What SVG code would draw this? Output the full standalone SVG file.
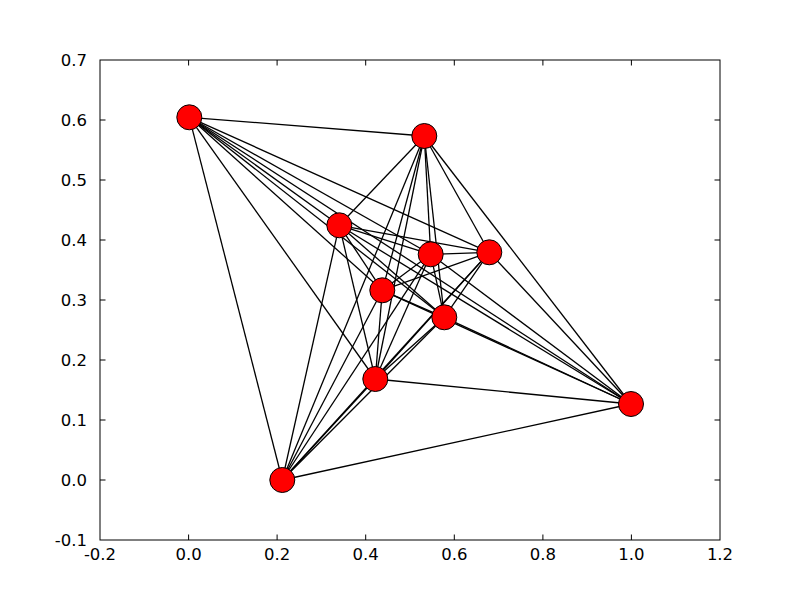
<svg xmlns="http://www.w3.org/2000/svg" width="800" height="600" viewBox="0 0 800 600">
<style>
.edge{stroke:#000;stroke-width:1.3;fill:none}
.node{fill:#ff0000;stroke:#000;stroke-width:1}
.tick{stroke:#000;stroke-width:1}
.lbl{font-family:"DejaVu Sans",sans-serif;font-size:16.5px;fill:#000}
.xl{text-anchor:middle}
.yl{text-anchor:end}
</style>
<rect width="800" height="600" fill="#fff"/>
<g id="connectors">
<line class="edge" x1="189.3" y1="117.3" x2="424.3" y2="136"/>
<line class="edge" x1="189.3" y1="117.3" x2="339.3" y2="225.3"/>
<line class="edge" x1="189.3" y1="117.3" x2="430.7" y2="254.3"/>
<line class="edge" x1="189.3" y1="117.3" x2="489.3" y2="252.3"/>
<line class="edge" x1="189.3" y1="117.3" x2="382.3" y2="290.3"/>
<line class="edge" x1="189.3" y1="117.3" x2="444.3" y2="317.3"/>
<line class="edge" x1="189.3" y1="117.3" x2="375.3" y2="379"/>
<line class="edge" x1="189.3" y1="117.3" x2="631" y2="404"/>
<line class="edge" x1="189.3" y1="117.3" x2="282.3" y2="480"/>
<line class="edge" x1="424.3" y1="136" x2="339.3" y2="225.3"/>
<line class="edge" x1="424.3" y1="136" x2="430.7" y2="254.3"/>
<line class="edge" x1="424.3" y1="136" x2="489.3" y2="252.3"/>
<line class="edge" x1="424.3" y1="136" x2="382.3" y2="290.3"/>
<line class="edge" x1="424.3" y1="136" x2="444.3" y2="317.3"/>
<line class="edge" x1="424.3" y1="136" x2="375.3" y2="379"/>
<line class="edge" x1="424.3" y1="136" x2="631" y2="404"/>
<line class="edge" x1="424.3" y1="136" x2="282.3" y2="480"/>
<line class="edge" x1="339.3" y1="225.3" x2="430.7" y2="254.3"/>
<line class="edge" x1="339.3" y1="225.3" x2="489.3" y2="252.3"/>
<line class="edge" x1="339.3" y1="225.3" x2="382.3" y2="290.3"/>
<line class="edge" x1="339.3" y1="225.3" x2="444.3" y2="317.3"/>
<line class="edge" x1="339.3" y1="225.3" x2="375.3" y2="379"/>
<line class="edge" x1="339.3" y1="225.3" x2="631" y2="404"/>
<line class="edge" x1="339.3" y1="225.3" x2="282.3" y2="480"/>
<line class="edge" x1="430.7" y1="254.3" x2="489.3" y2="252.3"/>
<line class="edge" x1="430.7" y1="254.3" x2="382.3" y2="290.3"/>
<line class="edge" x1="430.7" y1="254.3" x2="444.3" y2="317.3"/>
<line class="edge" x1="430.7" y1="254.3" x2="375.3" y2="379"/>
<line class="edge" x1="430.7" y1="254.3" x2="631" y2="404"/>
<line class="edge" x1="430.7" y1="254.3" x2="282.3" y2="480"/>
<line class="edge" x1="489.3" y1="252.3" x2="382.3" y2="290.3"/>
<line class="edge" x1="489.3" y1="252.3" x2="444.3" y2="317.3"/>
<line class="edge" x1="489.3" y1="252.3" x2="375.3" y2="379"/>
<line class="edge" x1="489.3" y1="252.3" x2="631" y2="404"/>
<line class="edge" x1="489.3" y1="252.3" x2="282.3" y2="480"/>
<line class="edge" x1="382.3" y1="290.3" x2="444.3" y2="317.3"/>
<line class="edge" x1="382.3" y1="290.3" x2="375.3" y2="379"/>
<line class="edge" x1="382.3" y1="290.3" x2="631" y2="404"/>
<line class="edge" x1="382.3" y1="290.3" x2="282.3" y2="480"/>
<line class="edge" x1="444.3" y1="317.3" x2="375.3" y2="379"/>
<line class="edge" x1="444.3" y1="317.3" x2="631" y2="404"/>
<line class="edge" x1="444.3" y1="317.3" x2="282.3" y2="480"/>
<line class="edge" x1="375.3" y1="379" x2="631" y2="404"/>
<line class="edge" x1="375.3" y1="379" x2="282.3" y2="480"/>
<line class="edge" x1="631" y1="404" x2="282.3" y2="480"/>
</g>
<g id="nodes">
<g id="n0"><circle class="node" cx="189.3" cy="117.3" r="12.5"/></g>
<g id="n1"><circle class="node" cx="424.3" cy="136" r="12.5"/></g>
<g id="n2"><circle class="node" cx="339.3" cy="225.3" r="12.5"/></g>
<g id="n3"><circle class="node" cx="430.7" cy="254.3" r="12.5"/></g>
<g id="n4"><circle class="node" cx="489.3" cy="252.3" r="12.5"/></g>
<g id="n5"><circle class="node" cx="382.3" cy="290.3" r="12.5"/></g>
<g id="n6"><circle class="node" cx="444.3" cy="317.3" r="12.5"/></g>
<g id="n7"><circle class="node" cx="375.3" cy="379" r="12.5"/></g>
<g id="n8"><circle class="node" cx="631" cy="404" r="12.5"/></g>
<g id="n9"><circle class="node" cx="282.3" cy="480" r="12.5"/></g>
</g>
<g id="axes">
<rect x="100" y="60" width="620" height="480" fill="none" stroke="#000" stroke-width="1"/>
<path class="tick" d="M188.6 540v-5.5M277.1 540v-5.5M365.7 540v-5.5M454.3 540v-5.5M542.9 540v-5.5M631.4 540v-5.5M188.6 60v5.5M277.1 60v5.5M365.7 60v5.5M454.3 60v5.5M542.9 60v5.5M631.4 60v5.5M100 120h5.5M100 180h5.5M100 240h5.5M100 300h5.5M100 360h5.5M100 420h5.5M100 480h5.5M720 120h-5.5M720 180h-5.5M720 240h-5.5M720 300h-5.5M720 360h-5.5M720 420h-5.5M720 480h-5.5"/>
<g class="lbl xl">
<text x="100" y="560">-0.2</text>
<text x="188.6" y="560">0.0</text>
<text x="277.1" y="560">0.2</text>
<text x="365.7" y="560">0.4</text>
<text x="454.3" y="560">0.6</text>
<text x="542.9" y="560">0.8</text>
<text x="631.4" y="560">1.0</text>
<text x="720" y="560">1.2</text>
</g>
<g class="lbl yl">
<text x="87" y="66">0.7</text>
<text x="87" y="126">0.6</text>
<text x="87" y="186">0.5</text>
<text x="87" y="246">0.4</text>
<text x="87" y="306">0.3</text>
<text x="87" y="366">0.2</text>
<text x="87" y="426">0.1</text>
<text x="87" y="486">0.0</text>
<text x="87" y="546">-0.1</text>
</g>
</g>
</svg>
